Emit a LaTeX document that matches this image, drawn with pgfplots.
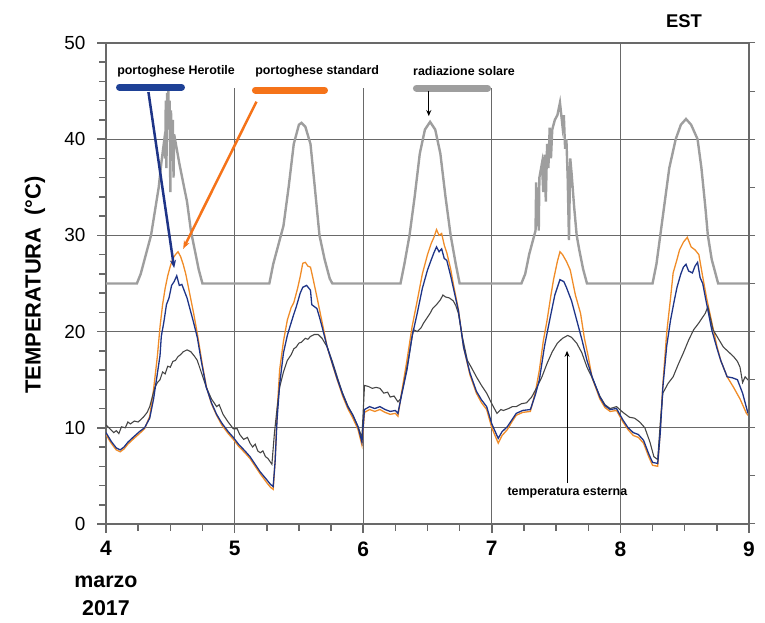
\documentclass[border=0pt]{standalone}
\usepackage{fontspec}
\setmainfont{Liberation Sans}
\usepackage{pgfplots}
\pgfplotsset{compat=1.18}
\usetikzlibrary{arrows.meta}

\definecolor{heroblue}{RGB}{30,52,135}
\definecolor{herobar}{RGB}{30,65,150}
\definecolor{stdorange}{RGB}{240,140,40}
\definecolor{stdbar}{RGB}{245,115,25}
\definecolor{radgray}{RGB}{158,158,158}
\definecolor{extgray}{RGB}{70,70,70}
\definecolor{gridcol}{RGB}{105,105,105}

\pgfplotsset{frame/.style={
    at={(106bp,99bp)}, anchor=south west,
    width=643bp, height=481bp, scale only axis,
    xmin=4, xmax=9, ymin=0, ymax=50,
    axis line style={gridcol, line width=1.3bp},
}}

\begin{document}
\begin{tikzpicture}[x=1bp,y=1bp]
\useasboundingbox (0,0) rectangle (765,623);

% left and bottom ticks with labels (drawn first)
\begin{axis}[
    frame,
    axis x line*=bottom, axis y line*=left,
    xtick={4,...,9}, ytick={0,10,...,50},
    minor xtick={4.25,4.5,4.75,5.25,5.5,5.75,6.25,6.5,6.75,7.25,7.5,7.75,8.25,8.5,8.75},
    minor ytick={2,4,6,8,12,14,16,18,22,24,26,28,32,34,36,38,42,44,46,48},
    tick align=outside,
    major tick length=9bp, minor tick length=7bp,
    every tick/.style={gridcol, line width=1.5bp},
    /pgf/number format/assume math mode=true,
    xticklabel style={font=\fontsize{21}{24}\selectfont\bfseries, yshift=-5bp},
    yticklabel style={font=\fontsize{19}{22}\selectfont, xshift=-8bp},
]
\addplot[white, line width=0.2bp] coordinates {(4,0) (9,0)};
\end{axis}

% data axis: box, grid, curves
\begin{axis}[
    frame,
    xtick={4,...,9}, ytick={0,10,...,50},
    xticklabels={}, yticklabels={},
    major tick length=0pt,
    xmajorgrids, ymajorgrids,
    major grid style={gridcol, line width=1.3bp},
]
% blank strip behind the legend labels
\fill[white] (axis cs:4.015,45.3) rectangle (axis cs:7.97,49.88);

% radiazione solare (scaled)
\addplot[radgray, line width=2.4bp] coordinates {
(4.00,25) (4.24,25) (4.27,26) (4.31,28) (4.35,30) (4.38,32.5) (4.41,35) (4.43,37.5)
(4.45,39.6) (4.46,38) (4.465,44) (4.47,37) (4.475,44.8) (4.48,43.5) (4.485,45) (4.49,41)
(4.495,44) (4.50,34.5) (4.505,43) (4.51,41) (4.52,42) (4.525,36) (4.53,40.5) (4.55,39)
(4.57,37.5) (4.60,35.5) (4.63,33.5) (4.66,30.5) (4.69,28.5) (4.72,26.5) (4.75,25)
(5.27,25) (5.30,27) (5.34,29) (5.38,31) (5.42,35) (5.46,39.5) (5.50,41.5) (5.52,41.7)
(5.55,41.3) (5.59,39.5) (5.62,35.5) (5.66,30) (5.70,27.5) (5.74,25.5) (5.76,25)
(6.29,25) (6.32,27) (6.36,30) (6.40,34) (6.44,38.5) (6.48,41) (6.52,41.8) (6.56,41)
(6.60,38.5) (6.64,34) (6.68,30) (6.72,27) (6.75,25)
(7.23,25) (7.26,26) (7.29,28) (7.32,29.5) (7.34,30.5) (7.345,35.5) (7.35,31) (7.36,35)
(7.365,30.5) (7.37,36) (7.39,37.5) (7.40,34.5) (7.41,38.4) (7.42,33.5) (7.43,39.5)
(7.44,37) (7.45,41.2) (7.46,38) (7.47,41) (7.49,42) (7.51,42.5) (7.53,43.8) (7.55,41.3)
(7.56,42.5) (7.57,39) (7.58,40) (7.59,36) (7.60,29.5) (7.61,38) (7.62,36.5) (7.64,33)
(7.66,30) (7.68,28.5) (7.71,26.5) (7.74,25)
(8.25,25) (8.28,27) (8.31,30) (8.33,32) (8.35,34) (8.38,37) (8.43,40) (8.47,41.5)
(8.51,42.1) (8.55,41.5) (8.60,40) (8.63,37) (8.66,33) (8.68,30) (8.71,27.5) (8.76,25)
(9.00,25)
};

% portoghese standard
\addplot[stdorange, line width=1.3bp] coordinates {
(4.00,9.3) (4.04,8.4) (4.08,7.7) (4.11,7.5) (4.14,7.8) (4.17,8.3) (4.21,8.8) (4.26,9.4)
(4.30,9.9) (4.34,11.2) (4.37,14.0) (4.40,17.5) (4.42,20.5) (4.44,22.8) (4.46,24.5)
(4.48,25.8) (4.50,26.8) (4.52,27.6) (4.54,28.0) (4.56,28.3) (4.58,27.8) (4.60,27.0)
(4.62,26.0) (4.65,24.0) (4.68,22.0) (4.71,19.8) (4.75,16.5) (4.78,14.3) (4.82,12.5)
(4.86,11.3) (4.90,10.3) (4.95,9.4) (4.99,8.8) (5.03,8.1) (5.08,7.4) (5.12,6.8) (5.16,6.0)
(5.20,5.2) (5.25,4.3) (5.28,3.8) (5.30,3.6) (5.315,6.5) (5.33,11.5) (5.35,16.0)
(5.38,19.0) (5.41,21.2) (5.44,22.5) (5.46,23.0) (5.49,24.5) (5.51,25.7) (5.53,27.1)
(5.55,27.2) (5.57,26.8) (5.59,26.7) (5.61,25.5) (5.64,23.6) (5.66,22.3) (5.68,21.0)
(5.72,18.4) (5.76,16.6) (5.80,14.9) (5.84,13.3) (5.88,12.0) (5.92,11.0) (5.96,9.8)
(5.99,8.2) (6.01,11.6) (6.05,11.9) (6.09,11.7) (6.13,11.9) (6.17,11.6) (6.21,11.4)
(6.25,11.5) (6.27,11.2) (6.30,13.8) (6.34,17.0) (6.38,20.5) (6.42,23.2) (6.46,26.0)
(6.50,28.0) (6.53,29.2) (6.55,29.8) (6.57,30.6) (6.59,30.0) (6.61,30.2) (6.63,29.0)
(6.65,28.2) (6.68,26.5) (6.70,25.0) (6.74,22.3) (6.78,18.4) (6.83,15.5) (6.88,13.6)
(6.92,12.6) (6.96,11.9) (7.00,10.0) (7.05,8.4) (7.08,9.2) (7.12,9.8) (7.16,10.7)
(7.19,11.3) (7.24,11.6) (7.30,11.7) (7.34,13.8) (7.37,16.0) (7.40,19.0) (7.43,21.2)
(7.46,23.8) (7.48,25.4) (7.51,27.3) (7.53,28.3) (7.55,28.0) (7.58,27.3) (7.61,26.4)
(7.65,23.8) (7.69,21.9) (7.72,19.3) (7.75,17.4) (7.78,15.2) (7.84,13.0) (7.88,12.1)
(7.92,11.7) (7.97,11.8) (8.02,10.6) (8.06,9.8) (8.10,9.2) (8.14,9.0) (8.18,8.4)
(8.22,7.0) (8.25,6.1) (8.29,6.0) (8.31,9.8) (8.33,14.5) (8.36,19.9) (8.39,23.5)
(8.41,26.1) (8.44,27.5) (8.46,28.5) (8.49,29.3) (8.52,29.8) (8.55,28.8) (8.58,28.5)
(8.61,28.0) (8.64,25.7) (8.67,23.5) (8.71,21.0) (8.75,18.5) (8.78,17.0) (8.83,15.3)
(8.88,14.2) (8.93,13.0) (8.98,11.5) (9.00,11.2)
};

% temperatura esterna
\addplot[extgray, line width=1.1bp] coordinates {
(4.00,10.3) (4.03,9.9) (4.06,9.5) (4.08,9.7) (4.10,9.4) (4.12,10.1) (4.15,10.0) (4.17,10.6)
(4.19,10.4) (4.22,10.7) (4.25,10.6) (4.29,11.1) (4.32,11.6) (4.34,12.2) (4.36,13.2)
(4.38,14.2) (4.40,14.7) (4.42,15.0) (4.44,15.8) (4.46,15.6) (4.48,16.4) (4.50,16.3)
(4.52,16.9) (4.54,17.0) (4.56,17.4) (4.58,17.6) (4.60,17.9) (4.63,18.1) (4.66,17.9)
(4.69,17.4) (4.71,17.0) (4.74,15.8) (4.78,14.2) (4.82,13.0) (4.86,12.2) (4.88,12.4)
(4.91,11.4) (4.95,10.6) (4.99,9.9) (5.02,9.9) (5.04,9.3) (5.07,8.8) (5.10,9.0) (5.12,8.4)
(5.14,8.0) (5.16,8.3) (5.18,7.6) (5.20,7.4) (5.22,7.6) (5.24,7.0) (5.26,6.8) (5.28,6.4)
(5.29,6.2) (5.31,9.5) (5.33,12.0) (5.35,14.2) (5.38,15.8) (5.41,17.0) (5.44,17.6)
(5.46,18.2) (5.48,18.4) (5.50,18.8) (5.52,18.9) (5.55,19.3) (5.57,19.2) (5.59,19.5)
(5.62,19.7) (5.65,19.7) (5.68,19.3) (5.72,18.4) (5.76,16.9) (5.80,15.2) (5.84,13.6)
(5.88,12.3) (5.92,11.3) (5.96,10.1) (5.99,9.0) (6.01,14.4) (6.04,14.3) (6.07,14.1)
(6.10,14.2) (6.13,14.1) (6.16,13.6) (6.19,13.7) (6.21,13.2) (6.24,13.3) (6.27,12.7)
(6.29,13.0) (6.31,14.2) (6.35,17.0) (6.39,20.2) (6.42,20.0) (6.45,20.4) (6.47,20.9)
(6.50,21.5) (6.52,21.9) (6.54,22.4) (6.57,22.8) (6.60,23.3) (6.62,23.8) (6.64,23.6)
(6.67,23.5) (6.70,23.2) (6.72,22.7) (6.74,21.9) (6.77,19.5) (6.81,17.0) (6.84,16.3)
(6.88,15.3) (6.92,14.4) (6.96,13.6) (7.00,12.5) (7.04,11.5) (7.07,11.9) (7.09,11.8)
(7.13,12.0) (7.16,12.2) (7.19,12.2) (7.23,12.5) (7.27,12.6) (7.31,13.2) (7.35,14.2)
(7.39,15.3) (7.43,16.7) (7.47,17.9) (7.51,18.8) (7.55,19.3) (7.59,19.6) (7.62,19.4)
(7.66,18.8) (7.70,17.8) (7.74,16.3) (7.78,15.2) (7.84,13.3) (7.88,12.4) (7.92,12.0)
(7.97,12.2) (8.02,11.6) (8.07,11.1) (8.11,11.0) (8.15,10.6) (8.19,10.0) (8.23,8.5)
(8.26,7.0) (8.29,6.7) (8.31,10.5) (8.33,13.6) (8.37,14.6) (8.41,15.3) (8.45,16.6)
(8.49,17.8) (8.53,19.1) (8.57,20.2) (8.61,20.9) (8.64,21.5) (8.66,21.9) (8.68,22.6)
(8.70,21.4) (8.72,20.2) (8.76,19.3) (8.80,18.4) (8.84,17.9) (8.88,17.4) (8.91,16.9)
(8.93,16.3) (8.95,14.7) (8.97,15.3) (8.99,15.0) (9.00,14.9)
};

% portoghese Herotile
\addplot[heroblue, line width=1.3bp] coordinates {
(4.00,9.5) (4.04,8.6) (4.08,7.9) (4.11,7.7) (4.14,8.0) (4.17,8.5) (4.21,9.0) (4.26,9.6)
(4.30,10.0) (4.34,11.0) (4.37,13.0) (4.40,15.7) (4.42,17.5) (4.43,19.5) (4.45,21)
(4.47,22.8) (4.49,23.5) (4.51,24.8) (4.53,25.2) (4.55,25.8) (4.57,24.8) (4.59,24.9)
(4.61,24.2) (4.63,23.5) (4.65,22.5) (4.68,21) (4.71,19.4) (4.74,17) (4.78,14.2)
(4.82,12.6) (4.86,11.4) (4.90,10.5) (4.95,9.6) (4.99,9.0) (5.03,8.3) (5.08,7.6)
(5.12,7.0) (5.16,6.2) (5.20,5.4) (5.25,4.6) (5.28,4.1) (5.30,3.9) (5.315,6.5)
(5.33,10.8) (5.35,14.5) (5.38,17.8) (5.41,19.6) (5.43,20.5) (5.46,21.8) (5.48,22.6)
(5.51,24) (5.53,24.6) (5.56,24.8) (5.59,24.3) (5.60,22.8) (5.62,22.6) (5.64,22.4)
(5.66,21.5) (5.68,20.5) (5.72,18.4) (5.76,16.7) (5.80,15.0) (5.84,13.5) (5.88,12.2)
(5.92,11.3) (5.96,10.1) (5.99,8.5) (6.01,11.9) (6.05,12.2) (6.09,12.0) (6.13,12.2)
(6.17,11.9) (6.21,11.7) (6.25,11.8) (6.27,11.5) (6.30,13.5) (6.34,16.0) (6.38,19.5)
(6.42,21.9) (6.46,24.5) (6.50,26.4) (6.53,27.5) (6.55,28.2) (6.57,28.8) (6.59,28.3)
(6.61,28.6) (6.63,27.6) (6.65,27.4) (6.68,25.8) (6.70,24.6) (6.74,22.2) (6.78,18.4)
(6.83,15.7) (6.88,13.8) (6.92,12.9) (6.96,12.2) (7.00,10.4) (7.05,8.9) (7.08,9.6)
(7.12,10.1) (7.16,10.9) (7.19,11.5) (7.24,11.8) (7.30,11.9) (7.34,13.5) (7.37,15.0)
(7.41,18.5) (7.45,21.2) (7.49,23.8) (7.53,25.4) (7.56,25.2) (7.58,24.6) (7.62,23.2)
(7.66,21.2) (7.70,19.2) (7.74,17.0) (7.78,15.3) (7.84,13.2) (7.88,12.3) (7.92,11.9)
(7.97,12.0) (8.02,10.8) (8.06,10.0) (8.10,9.5) (8.14,9.3) (8.18,8.7) (8.22,7.3)
(8.25,6.4) (8.29,6.3) (8.31,9.5) (8.33,14.2) (8.36,18.5) (8.39,21.2) (8.42,23.3)
(8.44,24.6) (8.47,26) (8.49,26.7) (8.51,27.0) (8.53,26.3) (8.56,26.1) (8.58,26.8)
(8.60,27.2) (8.62,25.6) (8.64,25.0) (8.66,23.6) (8.71,20.2) (8.75,18.3) (8.78,17.0)
(8.83,15.3) (8.87,15.2) (8.91,15.0) (8.95,13.6) (8.99,11.6) (9.00,11.4)
};

% legend bars and labels
\draw[herobar, line width=7bp, line cap=round] (axis cs:4.105,45.4) -- (axis cs:4.587,45.4);
\draw[stdbar, line width=7bp, line cap=round] (axis cs:5.162,45.1) -- (axis cs:5.699,45.1);
\draw[radgray, line width=7bp, line cap=round] (axis cs:6.414,45.3) -- (axis cs:6.967,45.3);
\node[anchor=west, inner sep=0pt, font=\fontsize{12.5}{14}\selectfont\bfseries]
    at (axis cs:4.086,47.1) {portoghese Herotile};
\node[anchor=west, inner sep=0pt, font=\fontsize{12.5}{14}\selectfont\bfseries]
    at (axis cs:5.159,47.1) {portoghese standard};
\node[anchor=west, inner sep=0pt, font=\fontsize{12.5}{14}\selectfont\bfseries]
    at (axis cs:6.387,47.1) {radiazione solare};

% pointer arrows
\draw[heroblue, line width=2.5bp, -{Stealth[length=8bp,width=6bp]}]
    (axis cs:4.33,44.9) -- (axis cs:4.53,26.6);
\draw[stdbar, line width=2.5bp, -{Stealth[length=8bp,width=6bp]}]
    (axis cs:5.17,43.9) -- (axis cs:4.60,28.6);
\draw[black, line width=1bp, -{Stealth[length=6bp,width=5bp]}]
    (axis cs:6.51,45.0) -- (axis cs:6.51,42.4);
\draw[black, line width=1bp, -{Stealth[length=6bp,width=5bp]}]
    (axis cs:7.585,4.3) -- (axis cs:7.585,18.0);
\node[inner sep=0pt, font=\fontsize{12.5}{14}\selectfont\bfseries]
    at (axis cs:7.588,3.3) {temperatura esterna};
\end{axis}

% right-hand ticks every 5
\begin{axis}[
    frame,
    hide x axis, axis y line*=right,
    ytick={0,5,...,50}, yticklabels={},
    tick align=outside, major tick length=6bp,
    every tick/.style={gridcol, line width=1bp},
]
\addplot[draw=none] coordinates {(4,0) (9,50)};
\end{axis}

\node[rotate=90, font=\fontsize{22}{25}\selectfont\bfseries] at (35,338) {TEMPERATURA\ \ (°C)};
\node[font=\fontsize{21.5}{24}\selectfont\bfseries] at (106,41) {marzo};
\node[font=\fontsize{21.5}{24}\selectfont\bfseries] at (106,15) {2017};
\node[font=\fontsize{18.5}{21}\selectfont\bfseries] at (684,601.5) {EST};
\end{tikzpicture}
\end{document}
